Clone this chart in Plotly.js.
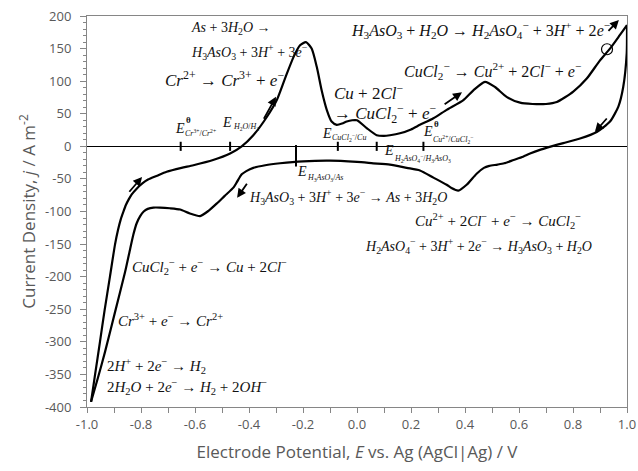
<!DOCTYPE html>
<html>
<head>
<meta charset="utf-8">
<script src="https://cdn.plot.ly/plotly-3.0.1.min.js"></script>
<style>html,body{margin:0;padding:0;background:#fff;}#chart{width:638px;height:471px;}</style>
</head>
<body>
<div id="chart"></div>
<script>
// ---- Data ----
// Anodic (forward) scan: potential E / V and current density j / A m^-2
const forwardE = [-0.985, -0.970, -0.952, -0.935, -0.915, -0.896, -0.885, -0.875, -0.865, -0.856, -0.845, -0.835, -0.816, -0.795, -0.774, -0.740, -0.705, -0.650, -0.606, -0.533, -0.470, -0.427, -0.384, -0.334, -0.297, -0.264, -0.234, -0.211, -0.189, -0.168, -0.149, -0.131, -0.112, -0.094, -0.075, -0.055, -0.038, -0.018, 0.000, 0.036, 0.073, 0.100, 0.122, 0.159, 0.200, 0.233, 0.283, 0.332, 0.394, 0.431, 0.474, 0.511, 0.554, 0.604, 0.650, 0.700, 0.740, 0.801, 0.851, 0.900, 0.937, 0.974, 1.000];
const forwardJ = [-392, -350, -300, -252, -200, -150, -128, -112, -100, -90, -81, -74, -65, -57, -51, -45, -39, -33, -29, -21, -11, 0, 17, 45, 71, 107, 138, 155, 160, 150, 122, 86, 56, 38, 33, 35, 38, 40, 40, 28, 17, 16, 17, 20, 26, 33, 43, 56, 71, 86, 99, 91, 76, 67, 65, 65, 68, 84, 104, 132, 150, 171, 186];
// Cathodic (reverse) scan
const reverseE = [1.000, 0.999, 0.986, 0.968, 0.937, 0.888, 0.826, 0.764, 0.720, 0.680, 0.641, 0.615, 0.580, 0.545, 0.520, 0.490, 0.470, 0.443, 0.406, 0.375, 0.350, 0.332, 0.283, 0.233, 0.184, 0.122, 0.060, 0.000, -0.100, -0.200, -0.285, -0.340, -0.384, -0.410, -0.427, -0.445, -0.457, -0.490, -0.520, -0.550, -0.581, -0.619, -0.655, -0.693, -0.730, -0.754, -0.775, -0.790, -0.803, -0.816, -0.828, -0.840, -0.859, -0.896, -0.933, -0.960, -0.985];
const reverseJ = [186, 143, 91, 61, 38, 22, 12, 5, 0, -5, -11, -16, -21, -26, -28, -30, -33, -42, -59, -68, -64, -59, -48, -37, -33, -28, -26, -24, -22, -23, -26, -29, -33, -38, -43, -55, -63, -76, -88, -99, -107, -103, -97, -95, -94, -94, -96, -100, -107, -118, -135, -157, -193, -254, -315, -356, -392];
// Reference potentials marked on the zero line
const refE = [-0.653, -0.470, -0.071, 0.073, 0.246];
const refLongE = [-0.226];
// Marked point (circle)
const circleE = [0.926];
const circleJ = [149];
// Axis tick labels
const xTickVals = [-1.0, -0.8, -0.6, -0.4, -0.2, 0.0, 0.2, 0.4, 0.6, 0.8, 1.0];
const xTickText = ['-1.0', '-0.8', '-0.6', '-0.4', '-0.2', '0.0', '0.2', '0.4', '0.6', '0.8', '1.0'];
const yTickVals = [200, 150, 100, 50, 0, -50, -100, -150, -200, -250, -300, -350, -400];
const yTickText = ['200', '150', '100', '50', '0', '-50', '-100', '-150', '-200', '-250', '-300', '-350', '-400'];

// Reaction labels: [text, E, j, fontsize]
const reactionLabels = [
  ['As + 3H_{2}O →', -0.622, 181, 14],
  ['H_{3}AsO_{3} + 3H^{+} + 3e^{−}', -0.622, 145, 14],
  ['Cr^{2+} → Cr^{3+} + e^{−}', -0.719, 103, 17],
  ['Cu + 2Cl^{−}', -0.093, 83, 17],
  ['→ CuCl_{2}^{−} + e^{−}', -0.093, 50, 17],
  ['H_{3}AsO_{3} + H_{2}O → H_{2}AsO_{4}^{−} + 3H^{+} + 2e^{−}', -0.030, 178, 16],
  ['CuCl_{2}^{−} → Cu^{2+} + 2Cl^{−} + e^{−}', 0.167, 115, 16],
  ['H_{3}AsO_{3} + 3H^{+} + 3e^{−} → As + 3H_{2}O', -0.407, -78, 14],
  ['Cu^{2+} + 2Cl^{−} + e^{−} → CuCl_{2}^{−}', 0.207, -115, 15],
  ['H_{2}AsO_{4}^{−} + 3H^{+} + 2e^{−} → H_{3}AsO_{3} + H_{2}O', 0.022, -153, 14],
  ['CuCl_{2}^{−} + e^{−} → Cu + 2Cl^{−}', -0.841, -185, 15],
  ['Cr^{3+} + e^{−} → Cr^{2+}', -0.893, -266, 15],
  ['2H^{+} + 2e^{−} → H_{2}', -0.933, -337, 15],
  ['2H_{2}O + 2e^{−} → H_{2} + 2OH^{−}', -0.933, -369, 15]
];
// Potential labels: [E-letter E, j, subscript text, sub E, sub j, standard(θ)]
const potentialLabels = [
  [-0.681, 28, 'Cr^{3+}/Cr^{2+}', -0.644, 20, true],
  [-0.507, 37, 'H_{2}O/H_{2}', -0.467, 30, false],
  [-0.137, 20, 'CuCl_{2}^{−}/Cu', -0.100, 13, false],
  [0.093, -6, 'H_{2}AsO_{4}^{−}/H_{3}AsO_{3}', 0.130, -18, false],
  [0.237, 23, 'Cu^{2+}/CuCl_{2}^{−}', 0.274, 11, true],
  [-0.230, -39, 'H_{3}AsO_{3}/As', -0.193, -49, false]
];
// Scan direction arrows: [tailE, tailJ, headE, headJ]
const scanArrows = [
  [-0.848, -72, -0.796, -47],
  [-0.348, 40, -0.300, 76],
  [0.319, 63, 0.389, 83],
  [0.926, 175, 0.970, 194],
  [0.930, 45, 0.881, 22],
  [-0.404, -55, -0.444, -79]
];

// ---- helpers ----
function chem(s) {
  let t = s.replace(/[A-Za-z]+/g, m => '<i>' + m + '</i>');
  t = t.replace(/_\{([^}]*)\}/g, '<sub>$1</sub>');
  t = t.replace(/\^\{([^}]*)\}/g, '<sup>$1</sup>');
  return t;
}

const serif = 'Liberation Serif, Times New Roman, serif';
const annotations = [];
reactionLabels.forEach(r => {
  annotations.push({x: r[1], y: r[2], xref: 'x', yref: 'y', text: chem(r[0]), showarrow: false,
    xanchor: 'left', yanchor: 'middle', font: {family: serif, size: r[3], color: '#111'}});
});
potentialLabels.forEach(p => {
  annotations.push({x: p[0], y: p[1], xref: 'x', yref: 'y', text: '<i>E</i>', showarrow: false,
    xanchor: 'left', yanchor: 'middle', font: {family: serif, size: 14, color: '#111'}});
  annotations.push({x: p[3], y: p[4], xref: 'x', yref: 'y', text: chem(p[2]), showarrow: false,
    xanchor: 'left', yanchor: 'middle', font: {family: serif, size: 8, color: '#111'}});
  if (p[5]) {
    annotations.push({x: p[3] + 0.002, y: p[1] + 12, xref: 'x', yref: 'y', text: '<b>θ</b>', showarrow: false,
      xanchor: 'left', yanchor: 'middle', font: {family: serif, size: 9, color: '#111'}});
  }
});
scanArrows.forEach(a => {
  annotations.push({x: a[2], y: a[3], ax: a[0], ay: a[1], xref: 'x', yref: 'y', axref: 'x', ayref: 'y',
    text: '', showarrow: true, arrowhead: 2, arrowsize: 1, arrowwidth: 1.8, arrowcolor: '#000', standoff: 0, startstandoff: 0});
});

const tickX = [], tickY = [];
refE.forEach(e => { tickX.push(e, e, null); tickY.push(7, -7, null); });
refLongE.forEach(e => { tickX.push(e, e, null); tickY.push(2, -31, null); });

const curveLine = {color: '#000', width: 2.2, shape: 'spline', smoothing: 0.6};
const traces = [
  {x: forwardE, y: forwardJ, mode: 'lines', line: curveLine, hoverinfo: 'skip'},
  {x: reverseE, y: reverseJ, mode: 'lines', line: curveLine, hoverinfo: 'skip'},
  {x: tickX, y: tickY, mode: 'lines', line: {color: '#000', width: 2}, hoverinfo: 'skip'},
  {x: circleE, y: circleJ, mode: 'markers', marker: {symbol: 'circle-open', size: 11, color: '#000', line: {width: 1.2, color: '#000'}}, hoverinfo: 'skip'}
];

const axisFont = 'Open Sans, Noto Sans, sans-serif';
const layout = {
  width: 638, height: 471,
  margin: {l: 87, r: 11, t: 16, b: 64},
  paper_bgcolor: '#fff', plot_bgcolor: '#fff',
  showlegend: false,
  xaxis: {
    range: [-1, 1], showgrid: false, zeroline: false,
    showline: true, linecolor: '#868686', linewidth: 1, mirror: true,
    ticks: 'outside', ticklen: 5, tickcolor: '#868686', tickwidth: 1,
    tickvals: xTickVals, ticktext: xTickText,
    minor: {dtick: 0.1, ticks: 'outside', ticklen: 5, tickcolor: '#868686'},
    tickfont: {family: axisFont, size: 13, color: '#595959'},
    title: {text: 'Electrode Potential, <i>E</i> vs. Ag (AgCl|Ag) / V', font: {family: axisFont, size: 17, color: '#595959'}, standoff: 14}
  },
  yaxis: {
    range: [-400, 200], showgrid: false,
    zeroline: true, zerolinecolor: '#000', zerolinewidth: 1,
    showline: true, linecolor: '#868686', linewidth: 1, mirror: true,
    ticks: 'outside', ticklen: 6, tickcolor: '#868686', tickwidth: 1,
    tickvals: yTickVals, ticktext: yTickText,
    minor: {dtick: 10, ticks: 'outside', ticklen: 3, tickcolor: '#868686'},
    tickfont: {family: axisFont, size: 13, color: '#595959'},
    ticklabelstandoff: 6,
    title: {text: 'Current Density, <i>j</i> / A m<sup>-2</sup>', font: {family: axisFont, size: 17, color: '#595959'}, standoff: 4}
  },
  annotations: annotations
};

Plotly.newPlot('chart', traces, layout, {displayModeBar: false, staticPlot: true});
</script>
</body>
</html>
